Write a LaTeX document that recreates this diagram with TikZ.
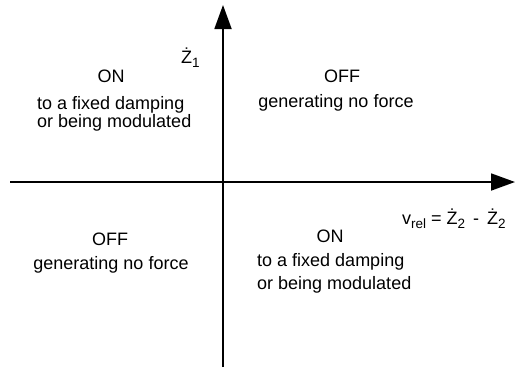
\documentclass[tikz,border=0pt]{standalone}
\usepackage{fontspec}
\setmainfont{Liberation Sans}
\usetikzlibrary{arrows.meta}
\newcommand{\lowsub}[1]{\raisebox{-4.5bp}{\fontsize{13.5bp}{14bp}\selectfont #1}}
\begin{document}
\begin{tikzpicture}[x=1bp,y=-1bp,
  axis/.style={line width=1.8bp, -{Triangle[length=24bp,width=17bp]}},
  lbl/.style={inner sep=0pt, anchor=base, font=\fontsize{18bp}{22bp}\selectfont},
  lbll/.style={lbl, anchor=base west}]
\useasboundingbox (0,0) rectangle (516,370);

% axes
\coordinate (xfrom) at (10,182);
\coordinate (xto) at (515,182);
\coordinate (yfrom) at (223,367);
\coordinate (yto) at (223,5);
\draw[axis] (xfrom) -- (xto);
\draw[axis] (yfrom) -- (yto);

% axis labels
\node[lbll] (zlabel) at (181,63) {Ż\lowsub{1}};
\node[lbll] (vlabel) at (402,224) {v\lowsub{rel} = Ż\lowsub{2} \,-\, Ż\lowsub{2}};

% upper left quadrant
\node[lbl] (ulstate) at (111,82) {ON};
\node[lbll] (ulline1) at (37,109) {to a fixed damping};
\node[lbll] (ulline2) at (37,127) {or being modulated};

% upper right quadrant
\node[lbl] (urstate) at (342,82) {OFF};
\node[lbl] (urline1) at (336,107) {generating no force};

% lower left quadrant
\node[lbl] (llstate) at (110,245) {OFF};
\node[lbl] (llline1) at (111,269) {generating no force};

% lower right quadrant
\node[lbl] (lrstate) at (330,242) {ON};
\node[lbll] (lrline1) at (257,266) {to a fixed damping};
\node[lbll] (lrline2) at (257,289) {or being modulated};
\end{tikzpicture}
\end{document}
